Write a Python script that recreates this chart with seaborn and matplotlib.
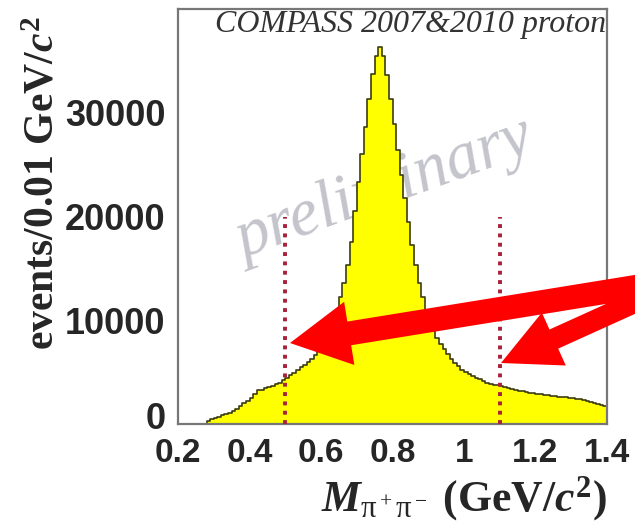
import numpy as np
import pandas as pd
import matplotlib
matplotlib.use("Agg")
import matplotlib.pyplot as plt
from matplotlib.patches import FancyArrow
from matplotlib.transforms import IdentityTransform, ScaledTranslation
from matplotlib.ticker import MultipleLocator
import seaborn as sns

# ---------------- data ----------------
bin_width = 0.01
bin_left = np.round(np.arange(0.28, 1.40 - 1e-9, bin_width), 2)
counts = [
    300, 450, 600, 700, 850, 950, 1100, 1250, 1450, 1700,          # 0.28-0.37
    2000, 2250, 2500, 2900, 3300, 3300, 3450, 3600, 3700, 3850,    # 0.38-0.47
    4000, 4200, 4450, 4700, 4950, 5200, 5450, 5700, 6000, 6300,    # 0.48-0.57
    6650, 7050, 7550, 8150, 8900, 9800, 10900, 12200, 13600, 15300,  # 0.58-0.67
    17500, 20500, 23300, 26000, 28600, 31300, 33700, 35500, 36300, 35500,  # 0.68-0.77
    33600, 31300, 28900, 26400, 24000, 21800, 19500, 17300, 15300, 13600,  # 0.78-0.87
    12200, 11000, 9900, 9000, 8300, 7700, 7200, 6700, 6300, 5900,   # 0.88-0.97
    5550, 5250, 5000, 4800, 4600, 4450, 4300, 4150, 4000, 3900,     # 0.98-1.07
    3800, 3750, 3650, 3550, 3450, 3350, 3300, 3200, 3150, 3050,     # 1.08-1.17
    3000, 2950, 2900, 2850, 2800, 2750, 2700, 2680, 2650, 2600,     # 1.18-1.27
    2580, 2550, 2500, 2450, 2400, 2330, 2250, 2150, 2050, 1950,     # 1.28-1.37
    1850, 1750,                                                     # 1.38-1.39
]
cut_positions = [0.5, 1.1]
cut_height = 20000
x_ticks = [0.2, 0.4, 0.6, 0.8, 1.0, 1.2, 1.4]
x_tick_labels = ["0.2", "0.4", "0.6", "0.8", "1", "1.2", "1.4"]
y_ticks = [0, 10000, 20000, 30000]
y_tick_labels = ["0", "10000", "20000", "30000"]
title_text = "COMPASS 2007&2010 proton"
watermark = "preliminary"

df = pd.DataFrame({"mass": bin_left + bin_width / 2, "events": counts})

# ---------------- style ----------------
sns.set_style("white")
plt.rcParams["font.family"] = ["Liberation Sans", "DejaVu Sans"]
plt.rcParams["mathtext.fontset"] = "custom"
plt.rcParams["mathtext.rm"] = "Liberation Serif:bold"
plt.rcParams["mathtext.it"] = "Liberation Serif:italic:bold"
plt.rcParams["mathtext.bf"] = "Liberation Serif:bold"
plt.rcParams["mathtext.sf"] = "Liberation Serif"

W, H = 635, 526
fig = plt.figure(figsize=(W / 100, H / 100), dpi=100)
ax = fig.add_axes([178 / W, 1 - 424 / H, (607 - 178) / W, (424 - 9) / H])

sns.histplot(data=df, x="mass", weights="events", binwidth=bin_width,
             binrange=(0.28, 1.40), element="step",
             fill=True, color="#ffff00", alpha=1.0, edgecolor="#3c3c10",
             linewidth=1.2, ax=ax, zorder=2)

ax.vlines(cut_positions, 0, cut_height, colors="#a8203a", linewidth=2.8,
          linestyles=(0, (1, 1.4)), zorder=3)

ax.set_xlim(0.2, 1.4)
ax.set_ylim(0, 40000)
ax.set_xticks(x_ticks)
ax.set_xticklabels(x_tick_labels)
ax.set_yticks(y_ticks)
ax.set_yticklabels(y_tick_labels)
ax.xaxis.set_minor_locator(MultipleLocator(0.05))
ax.yaxis.set_minor_locator(MultipleLocator(2000))
ax.tick_params(axis="both", which="both", direction="in", color="#444444",
               width=1.2, top=False, right=False)
ax.tick_params(axis="y", which="major", length=11, labelsize=26, pad=9)
ax.tick_params(axis="y", which="minor", length=6)
ax.tick_params(axis="x", which="major", length=7, labelsize=24, pad=10)
ax.tick_params(axis="x", which="minor", length=6)
for lab in ax.get_xticklabels() + ax.get_yticklabels():
    lab.set_fontweight("bold")
# lift the "0" label a little, as in the original
zero_lab = ax.get_yticklabels()[0]
zero_lab.set_transform(zero_lab.get_transform() +
                       ScaledTranslation(0, 6 / 72, fig.dpi_scale_trans))

for sp in ax.spines.values():
    sp.set_visible(True)
    sp.set_color("#777777")
    sp.set_linewidth(1.6)

ax.set_xlabel(r"$M_{\mathsf{\pi^+\pi^-}}$ (GeV/$c^2$)", fontsize=31.5,
              fontfamily="Liberation Serif", fontweight="bold",
              loc="right", labelpad=4)
ax.set_ylabel(r"events/0.01 GeV/$c^2$", fontsize=30,
              fontfamily="Liberation Serif", fontweight="bold", loc="top")
ax.yaxis.set_label_coords(-0.27, 0.983)

ax.text(0.997, 0.997, title_text, transform=ax.transAxes, ha="right", va="top",
        fontsize=23, fontfamily="Liberation Serif", fontstyle="italic",
        color="#333333", zorder=5)
ax.text(0.4825, 0.564, watermark, transform=ax.transAxes, ha="center",
        va="center", rotation=20, fontsize=48, fontfamily="Liberation Serif",
        fontstyle="italic", color="#c4c4cc", zorder=1.5)

# big red annotation arrows (figure pixels, origin bottom-left)
for tip, tail, w, hw, hl in [((290, H - 343), (660, H - 283), 24, 64, 60),
                             ((501, H - 363), (660, H - 291), 21, 58, 58)]:
    arr = FancyArrow(tail[0], tail[1], tip[0] - tail[0], tip[1] - tail[1],
                     width=w, head_width=hw, head_length=hl,
                     length_includes_head=True, color="#ff0000", lw=0,
                     transform=IdentityTransform())
    fig.patches.append(arr)

fig.savefig("out.png", dpi=100)
